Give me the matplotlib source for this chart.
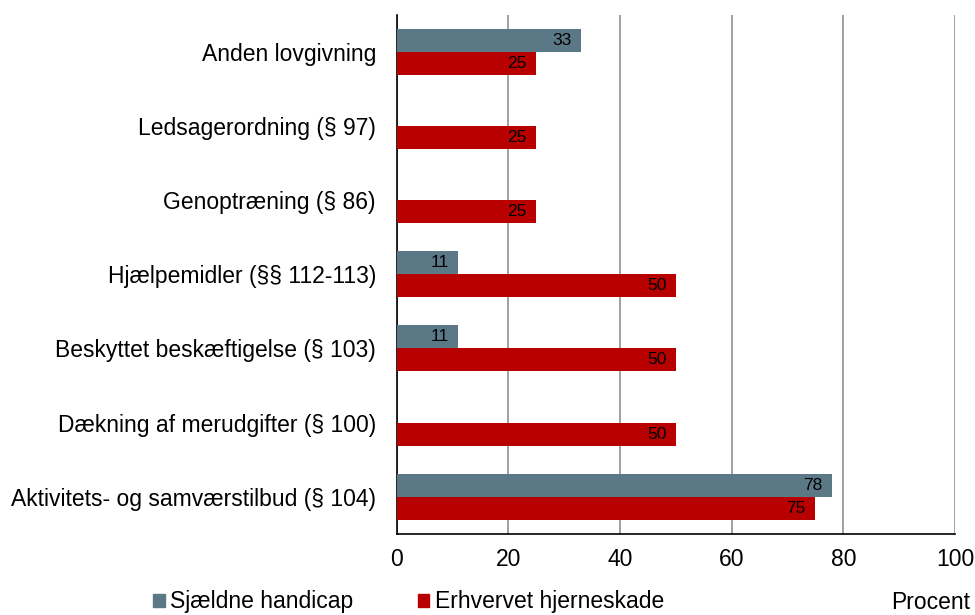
import numpy as np
import matplotlib.pyplot as plt
from matplotlib.patches import Patch

plt.rcParams['font.family'] = ['Liberation Sans', 'DejaVu Sans']

# data (top to bottom as in the chart)
categories = ['Anden lovgivning', 'Ledsagerordning (§ 97)', 'Genoptræning (§ 86)',
              'Hjælpemidler (§§ 112-113)', 'Beskyttet beskæftigelse (§ 103)',
              'Dækning af merudgifter (§ 100)', 'Aktivitets- og samværstilbud (§ 104)']
sjaeldne = [33, 0, 0, 11, 11, 0, 78]
hjerneskade = [25, 25, 25, 50, 50, 50, 75]
ticks = [0, 20, 40, 60, 80, 100]

blue = '#5B7886'
red = '#B80000'

fig = plt.figure(figsize=(9.75, 6.15), dpi=100)
ax = fig.add_axes([0.407, 0.132, 0.5725, 0.844])

y = np.arange(len(categories))[::-1]
h = 0.31
b1 = ax.barh(y + 0.155, sjaeldne, height=h, color=blue, zorder=3)
b2 = ax.barh(y - 0.155, hjerneskade, height=h, color=red, zorder=3)

for bars, vals in [(b1, sjaeldne), (b2, hjerneskade)]:
    for bar, v in zip(bars, vals):
        if v == 0:
            continue
        ax.annotate(str(v), (v, bar.get_y() + bar.get_height() / 2),
                    xytext=(-7, 0), textcoords='offset points',
                    ha='right', va='center', fontsize=12.5, color='black', zorder=4)

ax.set_xlim(0, 100)
ax.set_ylim(-0.5, 6.5)
ax.set_xticks(ticks)
ax.set_yticks(y)
ax.set_yticklabels(categories, fontsize=16.5)
ax.tick_params(axis='x', labelsize=16.5, length=0, pad=10)
ax.tick_params(axis='y', length=0, pad=15)
ax.grid(axis='x', color='#999999', linewidth=1.3, zorder=0)
for s in ['top', 'right']:
    ax.spines[s].set_visible(False)
ax.spines['left'].set_linewidth(1.2)
ax.spines['bottom'].set_linewidth(1.2)

handles = [Patch(color=blue, label='Sjældne handicap'),
           Patch(color=red, label='Erhvervet hjerneskade')]
fig.legend(handles=handles, loc='lower left', bbox_to_anchor=(0.136, -0.031), ncol=2,
           frameon=False, fontsize=16.5, handlelength=0.5, handleheight=0.5,
           handletextpad=0.25, columnspacing=2.8)
fig.text(0.995, 0.02, 'Procent', ha='right', va='center', fontsize=16.5)

fig.savefig('out.png', dpi=100)
